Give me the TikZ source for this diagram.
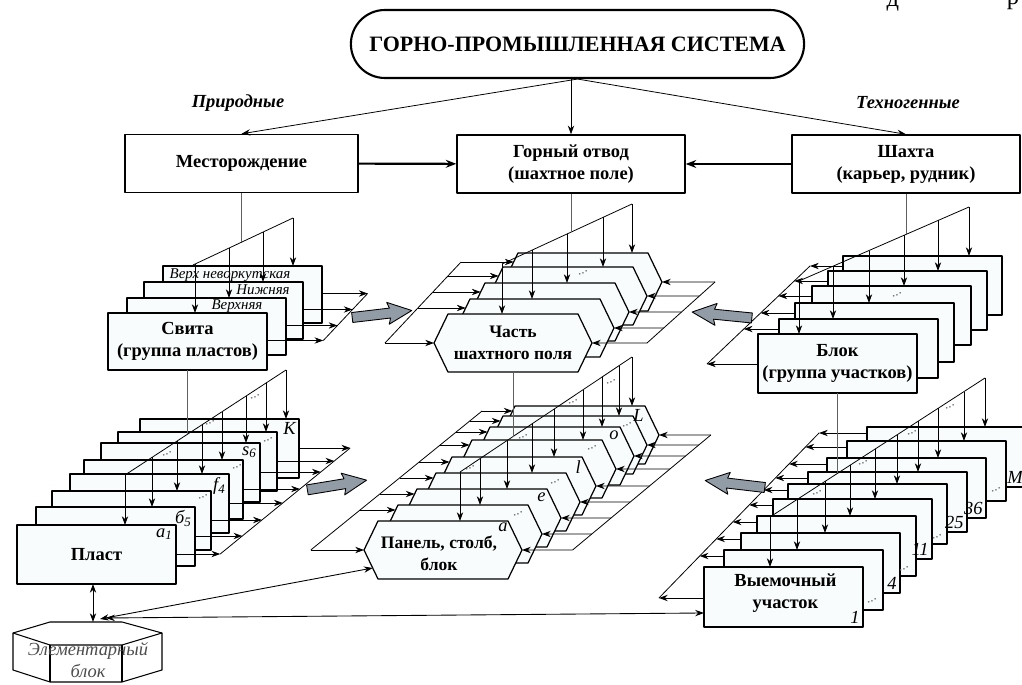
\documentclass[tikz,border=0pt]{standalone}
\usepackage{fontspec}
\setmainfont{Liberation Serif}
\usetikzlibrary{arrows.meta,calc,shapes.misc}
\definecolor{LayerFill}{RGB}{249,252,252}
\definecolor{BlockGray}{RGB}{146,156,166}
\definecolor{DotGray}{RGB}{110,110,110}
\newcommand{\boxfont}{\fontsize{10.5}{12.5}\selectfont\bfseries}
% hexagon layer: name, x, y of the upper left corner, text
\newcommand{\hexlayer}[4]{%
    \filldraw[hexline] (#2,#3) -- ++(130,0) -- ++(14,29) -- ++(-14,29) -- ++(-130,0) -- ++(-14,-29) -- cycle;
    \node[hexcore] (#1) at (#2,#3) {#4};}
\tikzset{
    sysbox/.style={rounded rectangle, draw, line width=1.2pt, minimum width=9.3cm, minimum height=1.36cm, font=\fontsize{12.5}{15}\selectfont\bfseries},
    topbox/.style={draw, line width=0.8pt, fill=white, minimum height=1.16cm, align=center, inner sep=0pt, font=\boxfont},
    boxtxt/.style={align=center, inner sep=0pt, font=\boxfont},
    kind/.style={font=\fontsize{10.5}{12}\selectfont\bfseries\itshape},
    layer/.style={draw, line width=0.7pt, fill=LayerFill, anchor=north west, minimum width=3.18cm, minimum height=#1, inner sep=0pt, outer sep=0pt},
    hexcore/.style={anchor=north west, minimum width=2.6cm, minimum height=1.16cm, inner sep=0pt, outer sep=0pt},
    hexline/.style={draw, line width=0.7pt, fill=LayerFill},
    link/.style={line width=0.45pt, -{Stealth[length=5pt,width=3.6pt]}},
    dlink/.style={line width=0.5pt, {Stealth[length=5pt,width=3.6pt]}-{Stealth[length=5pt,width=3.6pt]}},
    mainlink/.style={line width=1.2pt, -{Stealth[length=6pt,width=4.5pt]}},
    feed/.style={draw=gray!75!black, line width=0.5pt},
    slantline/.style={line width=0.45pt},
    lbl/.style={font=\fontsize{8.5}{10}\selectfont\itshape, inner sep=0pt},
    idx/.style={font=\fontsize{10.5}{12}\selectfont\itshape, inner sep=0pt},
    dots/.style={font=\fontsize{8}{8}\selectfont, text=DotGray, rotate=20, inner sep=0pt},
    fatarrow/.pic={\filldraw[line width=0.5pt, fill=BlockGray] (-30,-5) -- (8,-5) -- (6,-11) -- (30,0) -- (6,11) -- (8,5) -- (-30,5) -- cycle;}
}
\begin{document}
\begin{tikzpicture}[x=0.02cm, y=-0.02cm, line join=round]
    \useasboundingbox (0,0) rectangle (1022,685);
    \node[font=\fontsize{14}{14}\selectfont, anchor=base] (hd1) at (893,7) {д};
    \node[font=\fontsize{14}{14}\selectfont, anchor=base] (hd2) at (1013,5) {р};

    % top level
    \node[sysbox] (gps) at (577.5,44) {ГОРНО-ПРОМЫШЛЕННАЯ СИСТЕМА};
    \node[topbox, minimum width=4.66cm] (mest) at (241.5,163.5) {Месторождение};
    \node[topbox, minimum width=4.56cm] (gorn) at (571,164) {Горный отвод\\(шахтное поле)};
    \node[topbox, minimum width=4.56cm] (shaht) at (906,164) {Шахта\\(карьер, рудник)};
    \node[kind] (nat) at (238,103) {Природные};
    \node[kind] (tech) at (908,103) {Техногенные};
    \draw[link] (gps.south) -- (mest.north);
    \draw[link] (gps.south) -- (shaht.north);
    \draw[link] (gorn.north |- gps.south) -- (gorn.north);
    \draw[mainlink] (mest) -- (gorn);
    \draw[mainlink] (shaht) -- (gorn);

    % Svita
    \foreach \k/\x/\y in {4/163/266,3/144/282,2/127/298,1/108/313}{
        \node[layer=1.14cm] (sv\k) at (\x,\y) {};
        \pgfmathsetmacro\rx{320+(344-\y-27.5)/53*50}
        \coordinate (svr\k) at (\rx,\y+27.5);
        \draw[link] (sv\k.east |- svr\k) -- (svr\k);
    }
    \node[boxtxt] (svt) at (sv1) {Свита\\(группа пластов)};
    \node[lbl] (svl2) at ($(sv2.north east)+(-49,8)$) {Верхняя};
    \node[lbl] (svl3) at ($(sv3.north east)+(-40,8)$) {Нижняя};
    \node[lbl] (svl4) at ($(sv4.north east)+(-92,9)$) {Верх неворкутская};
    \draw[slantline] (svr1) -- (svr4);
    \coordinate (svA) at (193,265);
    \coordinate (svB) at (293,218);
    \draw[slantline] (svA) -- (svB);
    \foreach \k/\ax in {1/195,2/229,3/263,4/293}{
        \pgfmathsetmacro\sy{265-(\ax-193)/100*47}
        \coordinate (sva\k) at (\ax,\sy);
        \draw[link] (sva\k) -- (sva\k |- sv\k.north);
    }
    \coordinate (svm) at (mest.south |- 0,242.2);
    \draw[feed] (mest.south) -- (svm);

    % Plast
    \foreach \k/\x/\y in {8/140/419,7/118/432,6/101/443,5/84/460,4/70/474,3/52/491,2/36/507,1/17/525}{
        \node[layer=1.18cm] (pl\k) at (\x,\y) {};
        \pgfmathsetmacro\rx{219+(555-\y-29)/106*130}
        \coordinate (plr\k) at (\rx,\y+29);
        \draw[link] (pl\k.east |- plr\k) -- (plr\k);
    }
    \node[boxtxt] (plt) at (pl1) {Пласт};
    \draw[slantline] (plr1) -- (plr8);
    \node[idx, anchor=north east] (pli1) at ($(pl1.north east)+(-3,3)$) {a\textsubscript{1}};
    \node[idx, anchor=north east] (pli2) at ($(pl2.north east)+(-3,3)$) {б\textsubscript{5}};
    \node[idx, anchor=north east] (pli4) at ($(pl4.north east)+(-3,3)$) {f\textsubscript{4}};
    \node[idx, anchor=north east] (pli6) at ($(pl6.north east)+(-3,3)$) {s\textsubscript{6}};
    \node[idx, anchor=north east] (pli8) at ($(pl8.north east)+(-3,3)$) {K};
    \foreach \p [count=\i] in {(203,497),(237,467),(268,440),(167,454),(210,423),(255,397)}
        \node[dots] (pld\i) at \p {...};
    \coordinate (plA) at (125,475);
    \coordinate (plB) at (286,370);
    \draw[slantline] (plA) -- (plB);
    \foreach \k/\ax in {1/125,2/152,3/177,4/202,5/222,6/246,7/266,8/286}{
        \pgfmathsetmacro\sy{475-(\ax-125)/161*105}
        \coordinate (pla\k) at (\ax,\sy);
        \draw[link] (pla\k) -- (pla\k |- pl\k.north);
    }
    \coordinate (plm) at (sv1.south |- 0,434.2);
    \draw[feed] (sv1.south) -- (plm);

    % Chast shakhtnogo polya
    \foreach \k/\x/\y/\o in {5/518/253/9,4/503/267/9,3/485/283/9,2/470/299/9,1/448/314/29}{
        \hexlayer{ch\k}{\x}{\y}{}
        \pgfmathsetmacro\lx{385+(343-\y-\o)/82*77}
        \pgfmathsetmacro\ex{-14*\o/29}
        \coordinate (chl\k) at (\lx,\y+\o);
        \draw[link] (chl\k) -- ($(ch\k.north west)+(\ex,\o)$);
        \pgfmathsetmacro\rx{647+(343-\y-29)/61*68}
        \coordinate (chr\k) at (\rx,\y+29);
        \draw[link] (chr\k) -- ($(ch\k.east)+(14,0)$);
    }
    \node[boxtxt, font=\fontsize{10}{12.5}\selectfont\bfseries] (cht) at (ch1) {Часть\\шахтного поля};
    \draw[slantline] (chl1) -- (chl5);
    \draw[slantline] (chr1) -- (chr5);
    \node[dots] (chd) at (583,273) {...};
    \coordinate (chA) at (502,264);
    \coordinate (chB) at (632,204);
    \draw[slantline] (chA) -- (chB);
    \foreach \k/\ax in {1/502,2/532,3/567,4/603,5/632}{
        \pgfmathsetmacro\sy{264-(\ax-502)/130*60}
        \coordinate (cha\k) at (\ax,\sy);
        \draw[link] (cha\k) -- (cha\k |- ch\k.north);
    }
    \coordinate (chm) at (gorn.south |- 0,232.2);
    \draw[feed] (gorn.south) -- (chm);

    % Panel, stolb, blok
    \foreach \k/\x/\y/\o in {9/515/406/5,8/503/416/5,7/490/427/5,6/472/440/5,5/452/457/5,4/436/473/5,3/417/489/5,2/398/505/5,1/378/521/29}{
        \hexlayer{pn\k}{\x}{\y}{}
        \pgfmathsetmacro\lx{312+(549-\y-\o)/142*175}
        \pgfmathsetmacro\ex{-14*\o/29}
        \coordinate (pnl\k) at (\lx,\y+\o);
        \draw[link] (pnl\k) -- ($(pn\k.north west)+(\ex,\o)$);
        \pgfmathsetmacro\rx{575+(548-\y-29)/114*137}
        \coordinate (pnr\k) at (\rx,\y+29);
        \draw[link] (pnr\k) -- ($(pn\k.east)+(14,0)$);
    }
    \node[boxtxt, font=\fontsize{10}{12.5}\selectfont\bfseries] (pnt) at ($(pn1)+(-4,3)$) {Панель, столб,\\блок};
    \draw[slantline] (pnl1) -- (pnl9);
    \draw[slantline] (pnr1) -- (pnr9);
    \node[idx, anchor=north east] (pni1) at ($(pn1.north east)+(0,1)$) {a};
    \node[idx, anchor=north east] (pni3) at ($(pn3.north east)+(-1,3)$) {e};
    \node[idx, anchor=north east] (pni5) at ($(pn5.north east)+(-1,3)$) {l};
    \node[idx, anchor=north east] (pni7) at ($(pn7.north east)+(-1,3)$) {o};
    \node[idx, anchor=north east] (pni9) at ($(pn9.north east)+(-1,3)$) {L};
    \foreach \p [count=\i] in {(518,514),(555,482),(592,448),(627,425),(470,468),(523,437),(573,402),(611,382)}
        \node[dots] (pnd\i) at \p {...};
    \coordinate (pnA) at (460,472);
    \coordinate (pnB) at (632,357);
    \draw[slantline] (pnA) -- (pnB);
    \foreach \k/\ax in {1/460,2/480,3/507,4/532,5/554,6/583,7/602,8/619,9/632}{
        \pgfmathsetmacro\sy{472-(\ax-460)/172*115}
        \coordinate (pna\k) at (\ax,\sy);
        \draw[link] (pna\k) -- (pna\k |- pn\k.north);
    }
    \coordinate (pnm) at (ch1.south |- 0,436.6);
    \draw[feed] (ch1.south) -- (pnm);

    % Blok
    \foreach \k/\x/\y/\o in {6/843/256/10,5/828/271/10,4/812/286/10,3/795/303/10,2/779/319/10,1/758/334/30}{
        \node[layer=1.18cm] (bl\k) at (\x,\y) {};
        \pgfmathsetmacro\lx{707+(364-\y-\o)/98*103}
        \coordinate (bll\k) at (\lx,\y+\o);
        \draw[link] (bl\k.west |- bll\k) -- (bll\k);
    }
    \node[boxtxt] (blt) at (bl1) {Блок\\(группа участков)};
    \draw[slantline] (bll1) -- (bll6);
    \node[dots] (bld) at (897,295) {...};
    \coordinate (blA) at (799,281);
    \coordinate (blB) at (969,207);
    \draw[slantline] (blA) -- (blB);
    \foreach \k/\ax in {1/799,2/833,3/869,4/904,5/938,6/969}{
        \pgfmathsetmacro\sy{281-(\ax-799)/170*74}
        \coordinate (bla\k) at (\ax,\sy);
        \draw[link] (bla\k) -- (bla\k |- bl\k.north);
    }
    \coordinate (blm) at (shaht.south |- 0,234.4);
    \draw[feed] (shaht.south) -- (blm);

    % Vyemochnyj uchastok
    \foreach \k/\x/\y/\o in {10/867/427/6,9/847/441/6,8/827/458/6,7/808/472/6,6/788/484/6,5/773/499/6,4/757/516/6,3/741/533/6,2/724/550/6,1/704/567/31}{
        \node[layer=1.2cm] (vu\k) at (\x,\y) {};
        \pgfmathsetmacro\lx{657+(600-\y-\o)/168*163}
        \coordinate (vul\k) at (\lx,\y+\o);
        \draw[link] (vu\k.west |- vul\k) -- (vul\k);
    }
    \node[boxtxt] (vut) at ($(vu1)+(2,-4)$) {Выемочный\\участок};
    \draw[slantline] (vul1) -- (vul10);
    \foreach \k/\t in {1/1,3/4,5/11,7/25,8/36,10/M}
        \node[idx, anchor=south east] (vui\k) at ($(vu\k.south east)+(-3,-3)$) {\t};
    \foreach \p [count=\i] in {(872,601),(904,569),(937,537),(996,490),(950,407),(912,433),(863,463),(817,493)}
        \node[dots] (vud\i) at \p {...};
    \coordinate (vuA) at (770,517);
    \coordinate (vuB) at (985,378);
    \draw[slantline] (vuA) -- (vuB);
    \foreach \k/\ax in {1/770,2/797,3/825,4/850,5/875,6/897,7/918,8/938,9/964,10/985}{
        \pgfmathsetmacro\sy{517-(\ax-770)/215*139}
        \coordinate (vua\k) at (\ax,\sy);
        \draw[link] (vua\k) -- (vua\k |- vu\k.north);
    }
    \coordinate (vum) at (bl1.south |- 0,473.4);
    \draw[feed] (bl1.south) -- (vum);

    % grey arrows
    \pic[rotate=6.7] (ga1) at (382,314) {fatarrow};
    \pic[rotate=9.3] (ga2) at (337,485) {fatarrow};
    \pic[rotate=174.3] (ga3) at (722,315) {fatarrow};
    \pic[rotate=173.3] (ga4) at (735,484) {fatarrow};

    % elementary block
    \filldraw[fill=white, line width=0.6pt] (13,633) -- (50,622) -- (122,622) -- (162,633) -- (162,670) -- (122,682) -- (50,682) -- (13,670) -- cycle;
    \draw[line width=0.6pt] (13,633) -- (50,645) -- (122,645) -- (162,633);
    \draw[line width=0.6pt] (50,645) -- (50,682) (122,645) -- (122,682);
    \node[align=center, inner sep=0pt, text=black!70, font=\fontsize{10.5}{12}\selectfont\itshape] (eb) at (88,660) {Элементарный\\блок};
    \coordinate (ebtop) at (93,622);
    \coordinate (eba) at (100,619);
    \coordinate (ebb) at (106,618);
    \draw[dlink] (ebtop) -- (ebtop |- pl1.south);
    \draw[dlink] (eba) -- ($(pn1.south west)+(-5.3,-11)$);
    \draw[dlink] (ebb) -- ($(vu1.south west)+(0,-14)$);
\end{tikzpicture}
\end{document}
